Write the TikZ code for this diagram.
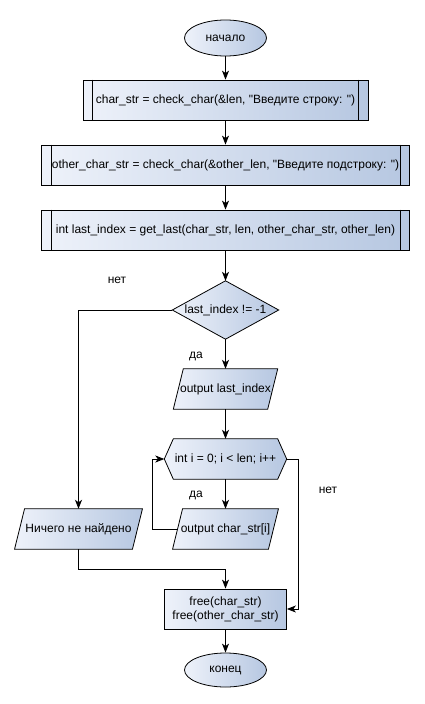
\documentclass[tikz,border=0pt]{standalone}
\usepackage{fontspec}
\setmainfont{Liberation Sans}
\usetikzlibrary{arrows.meta,backgrounds,calc,shapes.geometric}
\definecolor{fillL}{HTML}{EEF2FA}
\definecolor{fillR}{HTML}{B6C7E1}
\begin{document}
\begin{tikzpicture}[x=1pt,y=1pt,
  font=\fontsize{12}{14}\selectfont,
  shaded/.style={draw=black, line width=0.8pt, left color=fillL, right color=fillR},
  base/.style={inner sep=0pt, align=center, minimum height=40},
  proc/.style={base, rectangle, shaded},
  plain/.style={base, rectangle},
  term/.style={ellipse, shaded, inner sep=0pt, minimum width=82, minimum height=36},
  conn/.style={line width=0.8pt, -{Stealth[length=9pt,width=7pt,inset=2.5pt]}},
  line/.style={line width=0.8pt},
  lbl/.style={inner sep=0pt}
]
\useasboundingbox (0,0) rectangle (425,-704);

\node[term] (start) at (225.5,-38) {начало};
\node[proc, minimum width=285] (b1) at (225.5,-100) {char\_str = check\_char(\&len, \textquotedbl Введите строку: \textquotedbl)};
\node[proc, minimum width=368] (b2) at (225.5,-165) {other\_char\_str = check\_char(\&other\_len, \textquotedbl Введите подстроку: \textquotedbl)};
\node[proc, minimum width=368] (b3) at (225.5,-230) {int last\_index = get\_last(char\_str, len, other\_char\_str, other\_len)};
\node[plain, minimum width=106, minimum height=58] (dec) at (225.5,-310) {last\_index != -1};
\node[plain, minimum width=94] (out1) at (225.5,-389) {output last\_index};
\node[plain, minimum width=122] (loop) at (225.5,-459) {int i = 0; i < len; i++};
\node[plain, minimum width=95.5] (out2) at (225.5,-529) {output char\_str[i]};
\node[plain, minimum width=117.5] (nothing) at (78.5,-529) {Ничего не найдено};
\node[proc, minimum width=122] (free) at (225.5,-609) {free(char\_str)\\free(other\_char\_str)};
\node[term, minimum height=34] (end) at (225.5,-670) {конец};

\node[lbl] (l1) at (117,-280) {нет};
\node[lbl] (l2) at (196,-356) {да};
\node[lbl] (l3) at (328,-490) {нет};
\node[lbl] (l4) at (196,-495) {да};

% inner lines of predefined processes
\foreach \n in {b1,b2,b3}{
  \draw[line] ([xshift=10]\n.north west) -- ([xshift=10]\n.south west);
  \draw[line] ([xshift=-10]\n.north east) -- ([xshift=-10]\n.south east);
}

\begin{scope}[on background layer]
  \fill[white] (0,0) rectangle (425,-704);
  \path[shaded] (dec.west) -- (dec.north) -- (dec.east) -- (dec.south) -- cycle;
  \foreach \n in {out1,out2,nothing}{
    \path[shaded] ([xshift=-5]\n.south west) -- ([xshift=5]\n.north west)
      -- ([xshift=5]\n.north east) -- ([xshift=-5]\n.south east) -- cycle;
  }
  \path[shaded] (loop.west) -- ([xshift=9]loop.north west) -- ([xshift=-9]loop.north east)
    -- (loop.east) -- ([xshift=-9]loop.south east) -- ([xshift=9]loop.south west) -- cycle;
\end{scope}

\draw[conn] (start) -- (b1);
\draw[conn] (b1) -- (b2);
\draw[conn] (b2) -- (b3);
\draw[conn] (b3) -- (dec);
\draw[conn] (dec.west) -| (nothing.north);
\draw[conn] (dec) -- (out1);
\draw[conn] (out1) -- (loop);
\draw[conn] (loop) -- (out2);
\draw[conn] (out2.west) -- ++(-25,0) |- (loop.west);
\draw[conn] (loop.east) -- ++(12,0) |- (free.east);
\draw[conn] (nothing.south) -- ++(0,-20) -| (free.north);
\draw[conn] (free) -- (end);
\end{tikzpicture}
\end{document}
